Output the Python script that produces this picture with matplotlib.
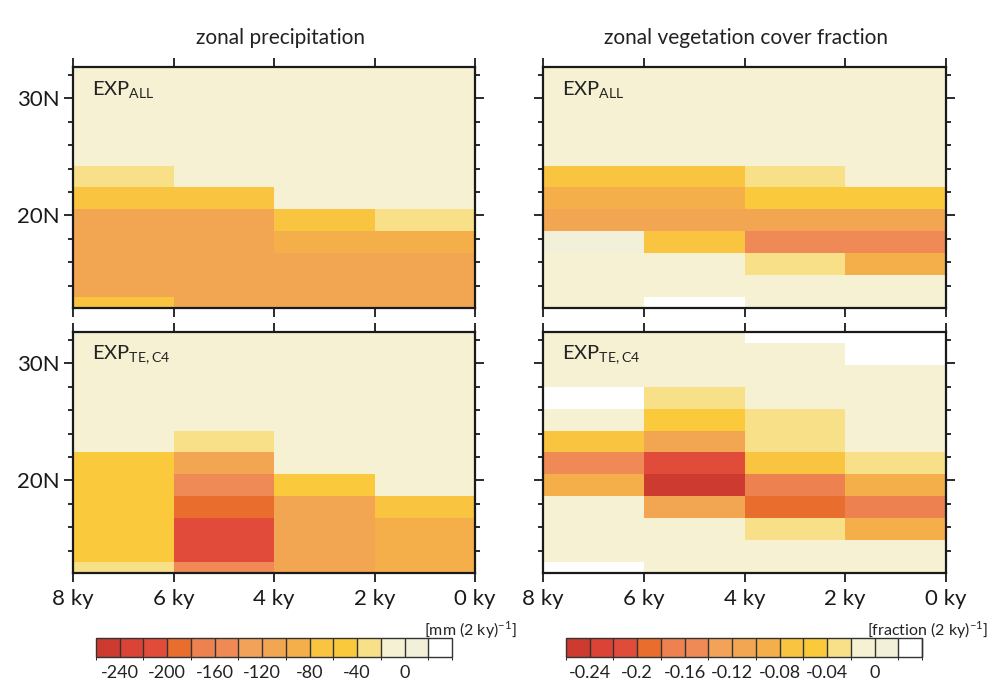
import numpy as np
import matplotlib.pyplot as plt
from matplotlib.colors import ListedColormap, BoundaryNorm
from matplotlib.ticker import MultipleLocator

plt.rcParams['font.family'] = ['Lato', 'DejaVu Sans']
plt.rcParams['mathtext.fontset'] = 'custom'
plt.rcParams['mathtext.rm'] = 'Lato'
plt.rcParams['axes.unicode_minus'] = False

# time bins (ky BP) and Gaussian-grid latitude rows
time_edges = [8, 6, 4, 2, 0]
lat_centers = np.arange(6, 18) * 1.8653 + 0.9326   # 12.1N ... 32.6N
lat_edges = np.arange(6, 19) * 1.8653

# rows go from south (12N) to north (33N); columns 8-6, 6-4, 4-2, 2-0 ky
precip_all = [
    [-70, -110, -110, -110],
    [-105, -110, -110, -110],
    [-110, -110, -110, -110],
    [-115, -120, -100, -90],
    [-120, -105, -65, -30],
    [-65, -70, -10, -10],
    [-30, -10, -10, -10],
    [-10, -10, -10, -10],
    [-10, -10, -10, -10],
    [-10, -10, -10, -10],
    [-10, -10, -10, -10],
    [-10, -10, -10, -10],
]
precip_tec4 = [
    [-30, -160, -115, -90],
    [-60, -220, -115, -90],
    [-60, -220, -115, -90],
    [-60, -190, -115, -70],
    [-60, -160, -60, -10],
    [-60, -105, -10, -10],
    [-10, -35, -10, -10],
    [-10, -10, -10, -10],
    [-10, -10, -10, -10],
    [-10, -10, -10, -10],
    [-10, -10, -10, -10],
    [-10, -10, -10, -10],
]
veg_all = [
    [-0.005, 0.03, -0.005, -0.005],
    [-0.005, -0.005, -0.005, -0.005],
    [-0.005, -0.005, -0.03, -0.10],
    [0.01, -0.07, -0.16, -0.16],
    [-0.11, -0.11, -0.11, -0.11],
    [-0.10, -0.10, -0.06, -0.06],
    [-0.07, -0.07, -0.03, -0.005],
    [-0.005, -0.005, -0.005, -0.005],
    [-0.005, -0.005, -0.005, -0.005],
    [-0.005, -0.005, -0.005, -0.005],
    [-0.005, -0.005, -0.005, -0.005],
    [-0.005, -0.005, -0.005, -0.005],
]
veg_tec4 = [
    [0.03, -0.005, -0.005, -0.005],
    [-0.005, -0.005, -0.005, -0.005],
    [-0.005, -0.005, -0.03, -0.10],
    [-0.005, -0.12, -0.19, -0.17],
    [-0.09, -0.25, -0.17, -0.10],
    [-0.16, -0.22, -0.07, -0.03],
    [-0.07, -0.11, -0.03, -0.005],
    [-0.005, -0.06, -0.025, -0.005],
    [0.03, -0.03, -0.005, -0.005],
    [-0.005, -0.005, -0.005, -0.005],
    [-0.005, -0.005, -0.005, 0.03],
    [-0.005, -0.005, 0.03, 0.03],
]

precip_levels = np.arange(-260, 41, 20)
veg_levels = np.linspace(-0.26, 0.04, 16)
precip_ticks = [-240, -200, -160, -120, -80, -40, 0]
veg_ticks = [-0.24, -0.2, -0.16, -0.12, -0.08, -0.04, 0]
veg_ticklabels = ['-0.24', '-0.2', '-0.16', '-0.12', '-0.08', '-0.04', '0']

colors = ['#cc3a30', '#da4336', '#e04b3a', '#e96d2c', '#ed8250', '#ef8a56',
          '#f3a25a', '#f3a652', '#f5af4a', '#f9c440', '#fbca3c', '#f8e089',
          '#f7f1d4', '#f3f0da', '#ffffff']
cmap = ListedColormap(colors)
precip_norm = BoundaryNorm(precip_levels, cmap.N)
veg_norm = BoundaryNorm(veg_levels, cmap.N)

fig = plt.figure(figsize=(9.91, 6.84), dpi=100)

W, H = 991.0, 684.0
def px_axes(x0, y0, x1, y1):
    return fig.add_axes([x0 / W, 1 - y1 / H, (x1 - x0) / W, (y1 - y0) / H])

ax_pa = px_axes(73, 67, 475, 308)
ax_va = px_axes(543, 67, 946, 308)
ax_pt = px_axes(73, 332, 475, 573)
ax_vt = px_axes(543, 332, 946, 573)

panels = [
    (ax_pa, precip_all, precip_norm, r'EXP$_{\mathrm{ALL}}$'),
    (ax_va, veg_all, veg_norm, r'EXP$_{\mathrm{ALL}}$'),
    (ax_pt, precip_tec4, precip_norm, r'EXP$_{\mathrm{TE,C4}}$'),
    (ax_vt, veg_tec4, veg_norm, r'EXP$_{\mathrm{TE,C4}}$'),
]

meshes = []
for ax, data, norm, label in panels:
    m = ax.pcolormesh(time_edges, lat_edges, np.array(data), cmap=cmap, norm=norm)
    meshes.append(m)
    ax.set_xlim(8, 0)
    ax.set_ylim(lat_centers[0], lat_centers[-1])
    ax.set_xticks([8, 6, 4, 2, 0])
    ax.set_yticks([20, 30])
    ax.yaxis.set_minor_locator(MultipleLocator(2))
    ax.tick_params(which='both', direction='out', top=True, right=True,
                   width=1.3, colors='#1a1a1a')
    ax.tick_params(axis='x', labelsize=16, pad=5)
    ax.tick_params(axis='y', labelsize=16, pad=3)
    ax.tick_params(which='major', length=6.5)
    ax.tick_params(which='minor', length=3.5)
    for sp in ax.spines.values():
        sp.set_linewidth(1.6)
        sp.set_color('#1a1a1a')
    ax.text(0.047, 0.905, label, transform=ax.transAxes, fontsize=14.5,
            va='center', ha='left', color='#222222')

for ax in (ax_pa, ax_pt):
    ax.set_yticklabels(['20N', '30N'])
for ax in (ax_va, ax_vt):
    ax.set_yticklabels([])
for ax in (ax_pa, ax_va):
    ax.set_xticklabels([])
for ax in (ax_pt, ax_vt):
    ax.set_xticklabels(['8 ky', '6 ky', '4 ky', '2 ky', '0 ky'])

fig.text(281 / W, 1 - 38 / H, 'zonal precipitation', ha='center', va='center',
         fontsize=15, color='#222222')
fig.text(746 / W, 1 - 38 / H, 'zonal vegetation cover fraction', ha='center',
         va='center', fontsize=15, color='#222222')

# colour bars
cax_p = px_axes(96, 638, 452, 657)
cax_v = px_axes(566, 638, 922, 657)
for cax, m, ticks in ((cax_p, meshes[0], precip_ticks), (cax_v, meshes[1], veg_ticks)):
    cb = fig.colorbar(m, cax=cax, orientation='horizontal', drawedges=True, ticks=ticks)
    cb.outline.set_edgecolor('#333333')
    cb.outline.set_linewidth(1.0)
    cb.dividers.set_color('#333333')
    cb.dividers.set_linewidth(1.0)
    cax.tick_params(length=0, labelsize=13, pad=6, colors='#222222')
cax_v.set_xticklabels(veg_ticklabels)

fig.text(517 / W, 1 - 630 / H, r'[mm (2 ky)$^{\mathrm{-1}}$]', ha='right',
         va='center', fontsize=11.5, color='#222222')
fig.text(988 / W, 1 - 630 / H, r'[fraction (2 ky)$^{\mathrm{-1}}$]', ha='right',
         va='center', fontsize=11.5, color='#222222')

fig.savefig('out.png', dpi=100)
